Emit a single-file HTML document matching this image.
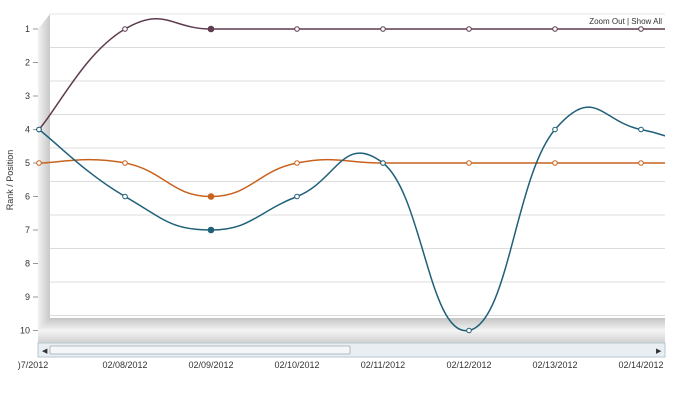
<!DOCTYPE html>
<html><head><style>
body{margin:0;background:#fff;width:676px;height:400px;overflow:hidden;font-family:"Liberation Sans",sans-serif}
</style></head><body>
<svg id="s" width="676" height="400" xmlns="http://www.w3.org/2000/svg" font-family="Liberation Sans, sans-serif">
<defs>
<linearGradient id="wall" x1="0" x2="1" y1="0" y2="0"><stop offset="0" stop-color="#f2f2f2"/><stop offset="1" stop-color="#c8c8c8"/></linearGradient>
<linearGradient id="floor" x1="0" x2="0" y1="0" y2="1"><stop offset="0" stop-color="#c4c4c4"/><stop offset="0.5" stop-color="#f4f4f4"/><stop offset="1" stop-color="#d0d0d0"/></linearGradient>
</defs>
<line x1="50" y1="14" x2="665" y2="14" stroke="#e4e4e4"/>
<g id="grid" stroke="#dcdcdc"></g>
<polygon points="38,29 50,14 50,318 38,331" fill="url(#wall)"/>
<polygon points="38,331 50,318 665,318 665,343 38,343" fill="url(#floor)"/>
<rect x="38" y="343" width="627" height="14" fill="#e8eef2" stroke="#b8c8d0"/>
<rect x="50" y="346" width="300" height="8" fill="#f4f6f8" stroke="#b0bcc4" rx="1"/>
<text x="42" y="353" font-size="7" fill="#333">◀</text>
<text x="656" y="353" font-size="7" fill="#333">▶</text>
<g id="yt" font-size="9" fill="#333" text-anchor="end"></g>
<text x="13" y="180" font-size="9" fill="#333" transform="rotate(-90 13 180)" text-anchor="middle">Rank / Position</text>
<g id="xt" font-size="9" fill="#333" text-anchor="middle"></g>
<text x="662" y="24" font-size="8" fill="#333" text-anchor="end">Zoom Out | Show All</text>
<g id="series"></g>
</svg>
<script>
var N='http://www.w3.org/2000/svg',s=document.getElementById('s');
function el(p,t,a,txt){var e=document.createElementNS(N,t);for(var k in a)e.setAttribute(k,a[k]);if(txt)e.textContent=txt;document.getElementById(p).appendChild(e);return e;}
function Y(r){return 29+(r-1)*33.5}
for(var r=1;r<=10;r++){el('yt','text',{x:30,y:Y(r)+3},''+r);el('yt','line',{x1:33,x2:38,y1:Y(r),y2:Y(r),stroke:'#999'});
 if(r>1)el('grid','line',{x1:50,x2:665,y1:Y(r)-15,y2:Y(r)-15});}
var d=['02/07/2012','02/08/2012','02/09/2012','02/10/2012','02/11/2012','02/12/2012','02/13/2012','02/14/2012'];
for(var i=0;i<8;i++){el('xt','text',{x:39+86*i+(i==0?-6:0),y:368},i==0?')7/2012':d[i]);}
function X(i){return 39+86*i}
var K=0.23;
function path(v){var p=v.map(function(r,i){return [X(i),Y(r)]});
 var s='M'+p[0][0]+','+p[0][1];
 for(var i=0;i<p.length-1;i++){var a=p[i-1]||p[i],b=p[i],c=p[i+1],e=p[i+2]||c;
  s+=' C'+(b[0]+(c[0]-a[0])*K)+','+(b[1]+(c[1]-a[1])*K)+' '+(c[0]-(e[0]-b[0])*K)+','+(c[1]-(e[1]-b[1])*K)+' '+c[0]+','+c[1];}
 return s;}
var S=[[ '#5e3b4f',[4,1,1,1,1,1,1,1,1],2],['#c8621e',[5,5,6,5,5,5,5,5,5],2],['#1f6079',[4,6,7,6,5,10,4,4,5],2]];
var clip=el('series','clipPath',{id:'c'});var cr=document.createElementNS(N,'rect');cr.setAttribute('x',30);cr.setAttribute('y',0);cr.setAttribute('width',635);cr.setAttribute('height',340);clip.appendChild(cr);
S.forEach(function(q){el('series','path',{d:path(q[1]),fill:'none',stroke:q[0],'stroke-width':1.5,'clip-path':'url(#c)'});
 for(var i=0;i<8;i++){var f=i==q[2];el('series','circle',{cx:X(i),cy:Y(q[1][i]),r:f?2.8:2.3,fill:f?q[0]:'#fff',stroke:q[0],'stroke-width':1});}});
</script>
</body></html>
